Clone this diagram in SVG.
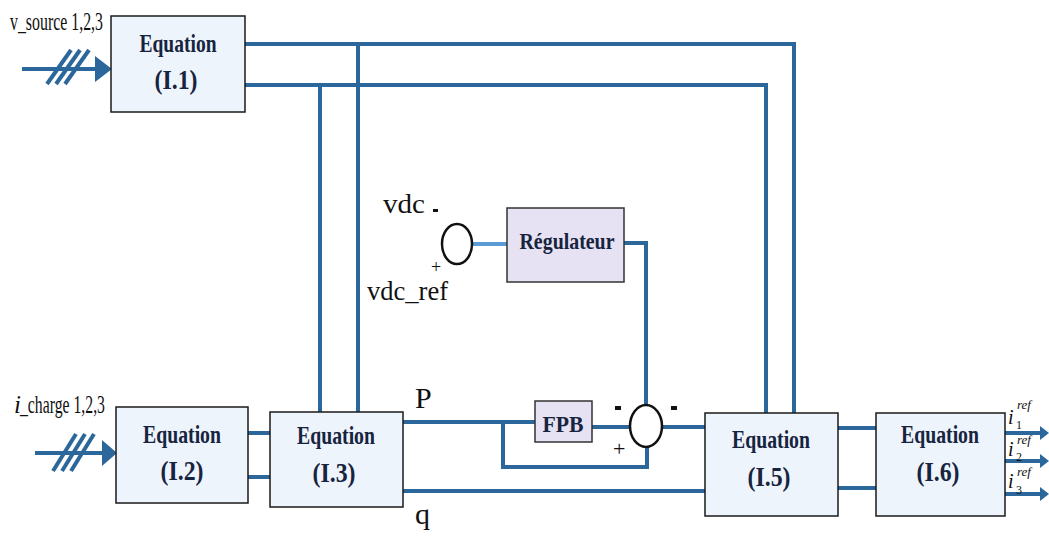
<svg xmlns="http://www.w3.org/2000/svg" width="1049" height="539" viewBox="0 0 1049 539">
<defs>
<style>
.box{fill:#eef4fb;stroke:#1a1a1a;stroke-width:1.5}
.blk{fill:#e6e2f3;stroke:#333;stroke-width:1.5}
.ln{fill:none;stroke:#2c679c;stroke-width:4;stroke-linejoin:miter}
.sl{fill:none;stroke:#2c679c;stroke-width:4}
.eq{font-family:'Liberation Serif',serif;font-weight:bold;fill:#17243f;text-anchor:middle}
.lab{font-family:'Liberation Serif',serif;fill:#111}
.mi{font-family:'Liberation Serif',serif;font-style:italic;fill:#111}
.arr{fill:#2c679c}
</style>
</defs>
<rect width="1049" height="539" fill="#ffffff"/>

<g id="connectors">
  <polyline class="ln" points="245,44 794,44 794,413"/>
  <polyline class="ln" points="358,44 358,412"/>
  <polyline class="ln" points="245,85 766,85 766,413"/>
  <polyline class="ln" points="320,85 320,412"/>
  <line class="ln" x1="248" y1="433" x2="270" y2="433"/>
  <line class="ln" x1="248" y1="477" x2="270" y2="477"/>
  <line class="ln" x1="403" y1="422" x2="535" y2="422"/>
  <polyline class="ln" points="503,422 503,467 647,467 647,447"/>
  <line class="ln" x1="592" y1="427" x2="630" y2="427"/>
  <line class="ln" x1="662" y1="427" x2="706" y2="427"/>
  <line class="ln" x1="403" y1="491" x2="706" y2="491"/>
  <line x1="472" y1="244" x2="507" y2="244" stroke="#5b9bd5" stroke-width="4"/>
  <polyline class="ln" points="624,243 646,243 646,405"/>
  <line class="ln" x1="838" y1="428" x2="876" y2="428"/>
  <line class="ln" x1="838" y1="488" x2="876" y2="488"/>
  <line class="ln" x1="1005" y1="433" x2="1042" y2="433"/>
  <line class="ln" x1="1005" y1="461" x2="1042" y2="461"/>
  <line class="ln" x1="1005" y1="494" x2="1042" y2="494"/>
  <polygon class="arr" points="1040,426 1049,433 1040,440"/>
  <polygon class="arr" points="1040,454 1049,461 1040,468"/>
  <polygon class="arr" points="1040,487 1049,494 1040,501"/>
  <line class="ln" x1="22" y1="69" x2="97" y2="69"/>
  <polygon class="arr" points="95,56 112,69 95,82"/>
  <line class="sl" x1="47" y1="84" x2="71" y2="50"/>
  <line class="sl" x1="56" y1="84" x2="80" y2="50"/>
  <line class="sl" x1="65" y1="84" x2="89" y2="50"/>
  <line class="ln" x1="35" y1="453" x2="104" y2="453"/>
  <polygon class="arr" points="102,440 117,453 102,466"/>
  <line class="sl" x1="53" y1="471" x2="76" y2="434"/>
  <line class="sl" x1="62" y1="471" x2="85" y2="434"/>
  <line class="sl" x1="71" y1="471" x2="94" y2="434"/>
</g>

<g id="node-I1">
  <rect class="box" x="111" y="16" width="134" height="96"/>
  <text class="eq" x="178" y="52" font-size="25" textLength="77" lengthAdjust="spacingAndGlyphs">Equation</text>
  <text class="eq" x="176" y="89" font-size="27" textLength="43" lengthAdjust="spacingAndGlyphs">(I.1)</text>
</g>
<g id="node-I2">
  <rect class="box" x="116" y="407" width="132" height="96"/>
  <text class="eq" x="182" y="443" font-size="25" textLength="78" lengthAdjust="spacingAndGlyphs">Equation</text>
  <text class="eq" x="182" y="480" font-size="27" textLength="43" lengthAdjust="spacingAndGlyphs">(I.2)</text>
</g>
<g id="node-I3">
  <rect class="box" x="270" y="412" width="133" height="95"/>
  <text class="eq" x="336" y="444" font-size="25" textLength="78" lengthAdjust="spacingAndGlyphs">Equation</text>
  <text class="eq" x="334" y="482" font-size="27" textLength="43" lengthAdjust="spacingAndGlyphs">(I.3)</text>
</g>
<g id="node-I5">
  <rect class="box" x="705" y="413" width="133" height="103"/>
  <text class="eq" x="771" y="448" font-size="25" textLength="78" lengthAdjust="spacingAndGlyphs">Equation</text>
  <text class="eq" x="769" y="486" font-size="27" textLength="43" lengthAdjust="spacingAndGlyphs">(I.5)</text>
</g>
<g id="node-I6">
  <rect class="box" x="876" y="413" width="129" height="103"/>
  <text class="eq" x="940" y="443" font-size="25" textLength="78" lengthAdjust="spacingAndGlyphs">Equation</text>
  <text class="eq" x="938" y="481" font-size="27" textLength="43" lengthAdjust="spacingAndGlyphs">(I.6)</text>
</g>
<g id="node-regulateur">
  <rect class="blk" x="507" y="208" width="117" height="74"/>
  <text class="eq" x="567" y="249" font-size="23" textLength="95" lengthAdjust="spacingAndGlyphs">Régulateur</text>
</g>
<g id="node-FPB">
  <rect class="blk" x="535" y="401" width="57" height="41"/>
  <text class="eq" x="563" y="432" font-size="24" textLength="41" lengthAdjust="spacingAndGlyphs">FPB</text>
</g>
<g id="node-sum1">
  <ellipse cx="457" cy="244" rx="15" ry="20" fill="#ffffff" stroke="#111" stroke-width="2.5"/>
  <text class="lab" x="383" y="213" font-size="27" textLength="42" lengthAdjust="spacingAndGlyphs">vdc</text>
  <rect x="433" y="209" width="5" height="3" fill="#111"/>
  <text class="lab" x="431" y="273" font-size="18">+</text>
  <text class="lab" x="367" y="300" font-size="27" textLength="81" lengthAdjust="spacingAndGlyphs">vdc_ref</text>
</g>
<g id="node-sum2">
  <ellipse cx="646" cy="426" rx="16" ry="21" fill="#ffffff" stroke="#111" stroke-width="2.5"/>
  <rect x="615" y="406" width="6" height="4" fill="#111"/>
  <rect x="671" y="406" width="6" height="4" fill="#111"/>
  <text class="lab" x="613" y="456" font-size="22">+</text>
</g>
<g id="labels">
  <text class="lab" x="10" y="30" font-size="25" textLength="93" lengthAdjust="spacingAndGlyphs">v_source 1,2,3</text>
  <text class="mi" x="14" y="413" font-size="25">i</text>
  <text class="lab" x="20" y="413" font-size="25" textLength="85" lengthAdjust="spacingAndGlyphs">_charge 1,2,3</text>
  <text class="lab" x="415" y="408" font-size="30">P</text>
  <text class="lab" x="415" y="524" font-size="30">q</text>
  <text class="mi" x="1008" y="424" font-size="20">i</text>
  <text class="mi" x="1017" y="409" font-size="13">ref</text>
  <text class="lab" x="1016" y="429" font-size="12">1</text>
  <text class="mi" x="1008" y="456" font-size="20">i</text>
  <text class="mi" x="1017" y="444" font-size="13">ref</text>
  <text class="lab" x="1016" y="461" font-size="12">2</text>
  <text class="mi" x="1008" y="488" font-size="20">i</text>
  <text class="mi" x="1017" y="476" font-size="13">ref</text>
  <text class="lab" x="1016" y="494" font-size="12">3</text>
</g>
</svg>
